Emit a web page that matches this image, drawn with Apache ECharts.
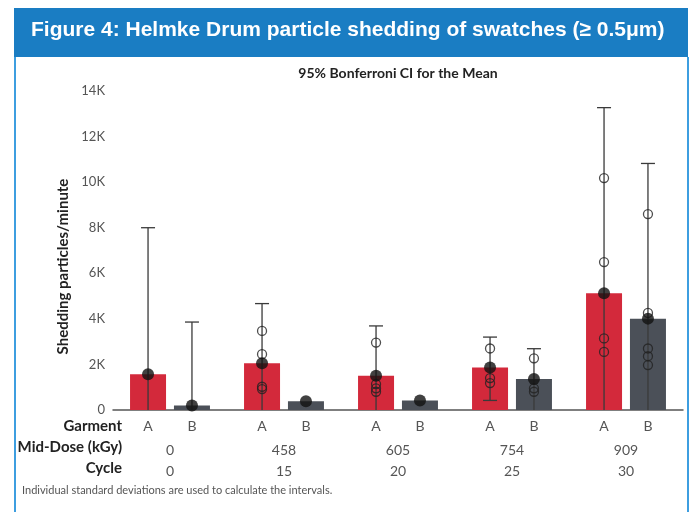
<!DOCTYPE html>
<html>
<head>
<meta charset="utf-8">
<script src="https://cdn.jsdelivr.net/npm/echarts@6/dist/echarts.min.js"></script>
<style>
  html, body { margin: 0; padding: 0; background: #fff; }
  #main { width: 695px; height: 512px; }
</style>
</head>
<body>
<div id="main"></div>
<script>
// 数据（单位：颗粒/分钟）
const doses = ['0', '458', '605', '754', '909']
const cycles = ['0', '15', '20', '25', '30']
const garments = ['A', 'B']
const yTicks = [0, 2000, 4000, 6000, 8000, 10000, 12000, 14000]

const meanA = [1570, 2050, 1500, 1870, 5120]
const meanB = [200, 380, 420, 1360, 4010]
const upperA = [8000, 4670, 3690, 3200, 13270]
const lowerA = [-4860, -570, -690, 420, -3030]
const upperB = [3860, null, null, 2690, 10820]
const lowerB = [-3460, null, null, -50, -2800]
// 单个样本观测值（空心圆）
const obsA = [[], [3470, 2450, 1020, 920], [2960, 1140, 950, 800], [2700, 1400, 1180], [10180, 6490, 3140, 2550]]
const obsB = [[], [], [], [2270, 950, 800], [8600, 4260, 2700, 2360, 1970]]

const FONT = "Lato, 'Open Sans', sans-serif"
const BAR_W = 36
const BAR_GAP = 0.22
const OFF = (BAR_W * (1 + BAR_GAP)) / 2

const chart = echarts.init(document.getElementById('main'))

const pts = (arr) => {
  const out = []
  arr.forEach((vals, i) => vals.forEach((v) => out.push([i, v])))
  return out
}

// 误差线
const errSeries = (name, mean, lower, upper, sign) => ({
  name: name + ' CI',
  type: 'custom',
  z: 3,
  data: mean.map((m, i) => [i, m, lower[i], upper[i]]),
  renderItem(params, api) {
    const i = api.value(0)
    const lo = api.value(2)
    const hi = api.value(3)
    if (isNaN(hi) || hi === null) return
    const x = api.coord([i, 0])[0] + sign * OFF
    const yHi = api.coord([i, hi])[1]
    const yLo = api.coord([i, Math.max(lo, 0)])[1]
    const style = { stroke: '#3a3a3a', lineWidth: 1.3 }
    const children = [
      { type: 'line', shape: { x1: x, y1: yHi, x2: x, y2: yLo }, style },
      { type: 'line', shape: { x1: x - 7, y1: yHi, x2: x + 7, y2: yHi }, style }
    ]
    if (lo > 0) {
      children.push({ type: 'line', shape: { x1: x - 7, y1: yLo, x2: x + 7, y2: yLo }, style })
    }
    return { type: 'group', children }
  }
})

const option = {
  animation: false,
  textStyle: { fontFamily: FONT },
  title: [
    {
      text: 'Figure 4: Helmke Drum particle shedding of swatches (≥ 0.5μm)',
      left: 31,
      top: 20,
      padding: 0,
      textStyle: { color: '#fff', fontSize: 21, fontWeight: 'bold', fontFamily: 'Liberation Sans, Arial, sans-serif' }
    },
    {
      text: '95% Bonferroni CI for the Mean',
      left: 398,
      top: 66,
      padding: 0,
      textAlign: 'center',
      textStyle: { color: '#222', fontSize: 14, fontWeight: 'bold', fontFamily: FONT }
    }
  ],
  grid: { left: 113, right: 12, top: 91, bottom: 102 },
  xAxis: {
    type: 'category',
    data: doses,
    axisLine: { lineStyle: { color: '#555', width: 1.5 } },
    axisTick: { show: false },
    axisLabel: {
      color: '#555',
      fontSize: 14,
      margin: 30,
      lineHeight: 21,
      formatter: (v, i) => v + '\n' + cycles[i]
    }
  },
  yAxis: {
    type: 'value',
    min: 0,
    max: 14000,
    interval: 2000,
    name: 'Shedding particles/minute',
    nameLocation: 'middle',
    nameGap: 42,
    nameTextStyle: { color: '#222', fontSize: 15, fontWeight: 'bold', padding: [0, 32, 0, 0] },
    axisLine: { show: false },
    axisTick: { show: false },
    splitLine: { show: false },
    axisLabel: {
      color: '#555',
      fontSize: 13,
      margin: 8,
      formatter: (v) => (yTicks.includes(v) && v > 0 ? v / 1000 + 'K' : '0')
    }
  },
  graphic: [
    { type: 'rect', shape: { x: 14, y: 8, width: 674, height: 49 }, style: { fill: '#1a7dc3' }, z: -1 },
    { type: 'line', shape: { x1: 15, y1: 57, x2: 15, y2: 512 }, style: { stroke: '#3d9ee0', lineWidth: 2 } },
    { type: 'line', shape: { x1: 688, y1: 57, x2: 688, y2: 512 }, style: { stroke: '#3d9ee0', lineWidth: 2 } },
    { type: 'text', x: 122, y: 426, style: { text: 'Garment', align: 'right', verticalAlign: 'middle', fill: '#222', font: 'bold 15px ' + FONT } },
    { type: 'text', x: 122, y: 447, style: { text: 'Mid-Dose (kGy)', align: 'right', verticalAlign: 'middle', fill: '#222', font: 'bold 15px ' + FONT } },
    { type: 'text', x: 122, y: 468, style: { text: 'Cycle', align: 'right', verticalAlign: 'middle', fill: '#222', font: 'bold 15px ' + FONT } },
    { type: 'text', x: 22, y: 490, style: { text: 'Individual standard deviations are used to calculate the intervals.', verticalAlign: 'middle', fill: '#555', font: '11px ' + FONT } }
  ],
  series: [
    {
      name: garments[0],
      type: 'bar',
      data: meanA,
      barWidth: BAR_W,
      barGap: BAR_GAP * 100 + '%',
      itemStyle: { color: '#d3293b' },
      label: { show: true, position: 'bottom', distance: 9, formatter: '{a}', color: '#555', fontSize: 14 }
    },
    {
      name: garments[1],
      type: 'bar',
      data: meanB,
      barWidth: BAR_W,
      itemStyle: { color: '#4b5058' },
      label: { show: true, position: 'bottom', distance: 9, formatter: '{a}', color: '#555', fontSize: 14 }
    },
    errSeries('A', meanA, lowerA, upperA, -1),
    errSeries('B', meanB, lowerB, upperB, 1),
    {
      name: 'A obs',
      type: 'scatter',
      z: 4,
      data: pts(obsA),
      symbol: 'circle',
      symbolSize: 9,
      symbolOffset: [-OFF, 0],
      itemStyle: { color: 'rgba(0,0,0,0)', borderColor: '#222', borderWidth: 1.3 }
    },
    {
      name: 'B obs',
      type: 'scatter',
      z: 4,
      data: pts(obsB),
      symbol: 'circle',
      symbolSize: 9,
      symbolOffset: [OFF, 0],
      itemStyle: { color: 'rgba(0,0,0,0)', borderColor: '#222', borderWidth: 1.3 }
    },
    {
      name: 'A mean',
      type: 'scatter',
      z: 5,
      data: meanA.map((m, i) => [i, m]),
      symbolSize: 12,
      symbolOffset: [-OFF, 0],
      itemStyle: { color: '#111' }
    },
    {
      name: 'B mean',
      type: 'scatter',
      z: 5,
      data: meanB.map((m, i) => [i, m]),
      symbolSize: 12,
      symbolOffset: [OFF, 0],
      itemStyle: { color: '#111' }
    }
  ]
}

chart.setOption(option)
</script>
</body>
</html>
